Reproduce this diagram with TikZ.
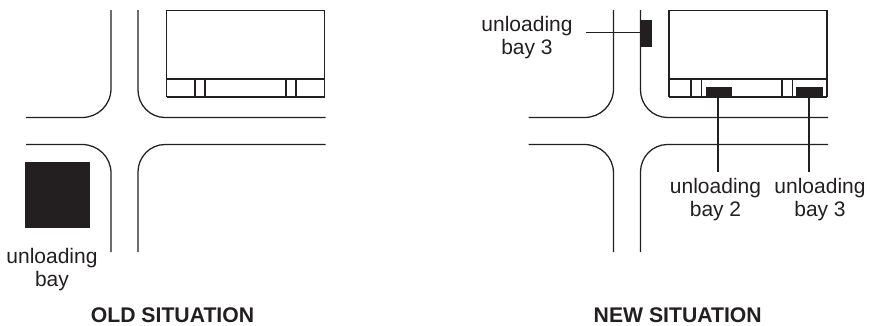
\documentclass[tikz,border=0pt]{standalone}
\usepackage{fontspec}
\setmainfont{Liberation Sans}
\definecolor{ink}{HTML}{231F20}
\tikzset{
  x=0.75pt,y=-0.75pt,
  road/.style={draw=ink,line width=0.95pt},
  wall/.style={draw=ink,line width=1.05pt},
  heavywall/.style={draw=ink,line width=1.4pt},
  leader/.style={draw=ink,line width=0.9pt},
  baybox/.style={fill=ink,draw=none,inner sep=0pt,minimum width=#1},
  lab/.style={inner sep=0pt,align=center,text=ink,font=\fontsize{15.75pt}{17.25pt}\selectfont},
  captiontext/.style={inner sep=0pt,anchor=base,text=ink,font=\fontsize{15.9pt}{18pt}\selectfont\bfseries},
}
\newcommand{\crossing}[2]{%
  \begin{scope}[shift={(#1,0)}]
    \draw[road] (111,10) -- (111,88.5) .. controls (111,105) and (98,117.5) .. (82,117.5) -- (26,117.5);
    \draw[road] (138,10) -- (138,90) .. controls (138,105) and (150,117.5) .. (165,117.5) -- (#2,117.5);
    \draw[road] (26,144.5) -- (82,144.5) .. controls (98,144.5) and (111,157) .. (111,173) -- (111,252);
    \draw[road] (138,252) -- (138,172) .. controls (138,157) and (150,144.5) .. (165,144.5) -- (#2,144.5);
  \end{scope}}
\begin{document}
\begin{tikzpicture}
\useasboundingbox (0,0) rectangle (870,325);
% OLD
\crossing{0}{325.5}
\draw[wall] (166.5,97) -- (166.5,10.5) -- (324.5,10.5) -- (324.5,97);
\draw[wall] (166.5,79) -- (324.5,79);
\draw[heavywall] (166.5,97) -- (324.5,97);
\foreach \xx in {195,205,286,296} \draw[wall] (\xx,79) -- (\xx,97);
\node[fill=ink,inner sep=0pt,minimum width=48.75pt,minimum height=49.5pt] (bigbay) at (57.5,195) {};
\node[lab] (biglabel) at (52,270) {unloading\\bay};
\node[captiontext] (oldcap) at (172.5,322) {OLD SITUATION};
% NEW
\crossing{502.5}{325.5}
\draw[wall] (669,97) -- (669,10.5) -- (827,10.5) -- (827,97);
\draw[wall] (669,79) -- (827,79);
\draw[heavywall] (669,97) -- (827,97);
\foreach \xx in {691,701.7,782,792.3} \draw[wall] (\xx,79) -- (\xx,97);
\node[baybox=20pt,minimum height=7.5pt] (baytwo) at (719,92.2) {};
\node[baybox=20pt,minimum height=7.5pt] (baythree) at (809.5,92.2) {};
\node[baybox=8.25pt,minimum height=20.25pt] (bayside) at (646.5,33.2) {};
\node[lab] (labside) at (527,38) {unloading\\bay 3};
\node[lab] (labtwo) at (715.5,199.5) {unloading\\bay 2};
\node[lab] (labthree) at (820,199.5) {unloading\\bay 3};
\coordinate (endside) at (585.7,32.5);
\coordinate (endtwo) at (718,171.7);
\coordinate (endthree) at (809,171.7);
\draw[leader] (endside) -- (endside -| bayside.west);
\draw[leader] (endtwo |- baytwo.south) -- (endtwo);
\draw[leader] (endthree |- baythree.south) -- (endthree);
\node[captiontext] (newcap) at (677.7,322) {NEW SITUATION};
\end{tikzpicture}
\end{document}
